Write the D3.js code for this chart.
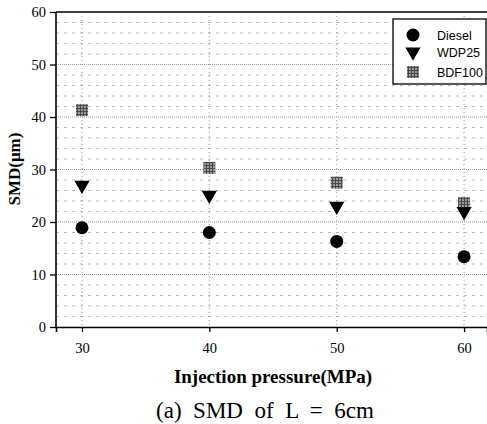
<!DOCTYPE html>
<html>
<head>
<meta charset="utf-8">
<script src="https://cdn.jsdelivr.net/npm/d3@7"></script>
<style>
  body { margin: 0; background: #fff; }
  svg { display: block; }
</style>
</head>
<body>
<script>
// chart data
var pressures = [30, 40, 50, 60];
var diesel = [18.9, 18.0, 16.3, 13.4];
var wdp25 = [27.0, 25.1, 23.0, 22.0];
var bdf100 = [41.3, 30.3, 27.5, 23.6];
var seriesNames = ["Diesel", "WDP25", "BDF100"];
var yTicks = [0, 10, 20, 30, 40, 50, 60];

var svgWidth = 487;
var svgHeight = 424;

var margin = { top: 12, right: 0, bottom: 97, left: 56 };
var width = svgWidth - margin.left - margin.right;
var height = svgHeight - margin.top - margin.bottom;

var svg = d3.select("body")
  .append("svg")
  .attr("width", svgWidth)
  .attr("height", svgHeight);

// hatch pattern for the BDF100 squares
var defs = svg.append("defs");
var pat = defs.append("pattern")
  .attr("id", "hatch")
  .attr("patternUnits", "userSpaceOnUse")
  .attr("width", 3)
  .attr("height", 3);
pat.append("rect").attr("width", 3).attr("height", 3).attr("fill", "#9a9a9a");
pat.append("rect").attr("width", 3).attr("height", 1).attr("fill", "#4a4a4a");
pat.append("rect").attr("width", 1).attr("height", 3).attr("fill", "#4a4a4a");

var chartGroup = svg.append("g")
  .attr("transform", `translate(${margin.left}, ${margin.top})`);

var xScale = d3.scaleLinear()
  .domain([27.96, 61.8])
  .range([0, width]);

var yScale = d3.scaleLinear()
  .domain([0, 60])
  .range([height, 0]);

// horizontal dotted grid every 2 units
var gridVals = d3.range(2, 60, 2);
chartGroup.selectAll(".hgrid")
  .data(gridVals)
  .enter()
  .append("line")
  .attr("class", "hgrid")
  .attr("x1", 0)
  .attr("x2", width)
  .attr("y1", d => yScale(d))
  .attr("y2", d => yScale(d))
  .attr("stroke", d => d % 10 === 0 ? "#999" : "#bbb")
  .attr("stroke-width", 1)
  .attr("stroke-dasharray", d => d % 10 === 0 ? "1,1" : "3,5");

// vertical dotted grid at x ticks
chartGroup.selectAll(".vgrid")
  .data(pressures)
  .enter()
  .append("line")
  .attr("class", "vgrid")
  .attr("x1", d => xScale(d))
  .attr("x2", d => xScale(d))
  .attr("y1", 0)
  .attr("y2", height)
  .attr("stroke", "#999")
  .attr("stroke-width", 1)
  .attr("stroke-dasharray", "1,3");

// axes
var bottomAxis = d3.axisBottom(xScale)
  .tickValues(pressures)
  .tickSize(5)
  .tickPadding(11);
var leftAxis = d3.axisLeft(yScale)
  .tickValues(yTicks)
  .tickSize(6)
  .tickPadding(4);

var xAxis = chartGroup.append("g")
  .attr("transform", `translate(0, ${height})`)
  .call(bottomAxis);

var yAxis = chartGroup.append("g")
  .call(leftAxis);

[xAxis, yAxis].forEach(function(ax) {
  ax.select(".domain").attr("stroke", "#000").attr("stroke-width", 1.6);
  ax.selectAll(".tick line").attr("stroke", "#000").attr("stroke-width", 1.3);
  ax.selectAll("text")
    .attr("font-family", "Liberation Serif, serif")
    .attr("font-size", 14.5)
    .attr("fill", "#000");
});
yAxis.select(".domain").attr("d", `M0,${height}V0`);

// top frame line
chartGroup.append("line")
  .attr("x1", 0)
  .attr("x2", width)
  .attr("y1", 0)
  .attr("y2", 0)
  .attr("stroke", "#000")
  .attr("stroke-width", 1.6);

var tri = d3.symbol().type(d3.symbolTriangle).size(100);

// BDF100 squares
chartGroup.selectAll(".bdf")
  .data(bdf100)
  .enter()
  .append("rect")
  .attr("class", "bdf")
  .attr("x", (d, i) => xScale(pressures[i]) - 6)
  .attr("y", d => yScale(d) - 6)
  .attr("width", 12)
  .attr("height", 12)
  .attr("fill", "url(#hatch)");

// WDP25 down triangles
chartGroup.selectAll(".wdp")
  .data(wdp25)
  .enter()
  .append("path")
  .attr("class", "wdp")
  .attr("d", tri)
  .attr("transform", (d, i) => `translate(${xScale(pressures[i])}, ${yScale(d)}) rotate(180)`)
  .attr("fill", "#000");

// Diesel circles
chartGroup.selectAll(".diesel")
  .data(diesel)
  .enter()
  .append("circle")
  .attr("class", "diesel")
  .attr("cx", (d, i) => xScale(pressures[i]))
  .attr("cy", d => yScale(d))
  .attr("r", 6.5)
  .attr("fill", "#000");

// legend
var legend = svg.append("g")
  .attr("transform", "translate(393, 19)");
legend.append("rect")
  .attr("x", 0)
  .attr("y", 0)
  .attr("width", 93)
  .attr("height", 65)
  .attr("fill", "#fff")
  .attr("stroke", "#000")
  .attr("stroke-width", 1.3);

var legendY = [16, 33, 53];
legend.append("circle")
  .attr("cx", 20).attr("cy", legendY[0]).attr("r", 6.5).attr("fill", "#000");
legend.append("path")
  .attr("d", tri)
  .attr("transform", `translate(20, ${legendY[1]}) rotate(180)`)
  .attr("fill", "#000");
legend.append("rect")
  .attr("x", 14).attr("y", legendY[2] - 6)
  .attr("width", 12).attr("height", 12)
  .attr("fill", "url(#hatch)");

legend.selectAll(".ltext")
  .data(seriesNames)
  .enter()
  .append("text")
  .attr("class", "ltext")
  .attr("x", 44)
  .attr("y", (d, i) => legendY[i] + 4.5)
  .attr("font-family", "Liberation Sans, Arial, sans-serif")
  .attr("font-size", 12.5)
  .attr("fill", "#000")
  .text(d => d);

// axis titles
svg.append("text")
  .attr("transform", `translate(20, ${margin.top + 157}) rotate(-90)`)
  .attr("text-anchor", "middle")
  .attr("font-family", "Liberation Serif, serif")
  .attr("font-weight", "bold")
  .attr("font-size", 17)
  .text("SMD(μm)");

svg.append("text")
  .attr("x", 273)
  .attr("y", 383)
  .attr("text-anchor", "middle")
  .attr("font-family", "Liberation Serif, serif")
  .attr("font-weight", "bold")
  .attr("font-size", 19)
  .text("Injection pressure(MPa)");

svg.append("text")
  .attr("x", 265)
  .attr("y", 418)
  .attr("text-anchor", "middle")
  .attr("font-family", "Liberation Serif, serif")
  .attr("font-size", 23)
  .style("white-space", "pre")
  .text("(a)  SMD  of  L  =  6cm");
</script>
</body>
</html>
